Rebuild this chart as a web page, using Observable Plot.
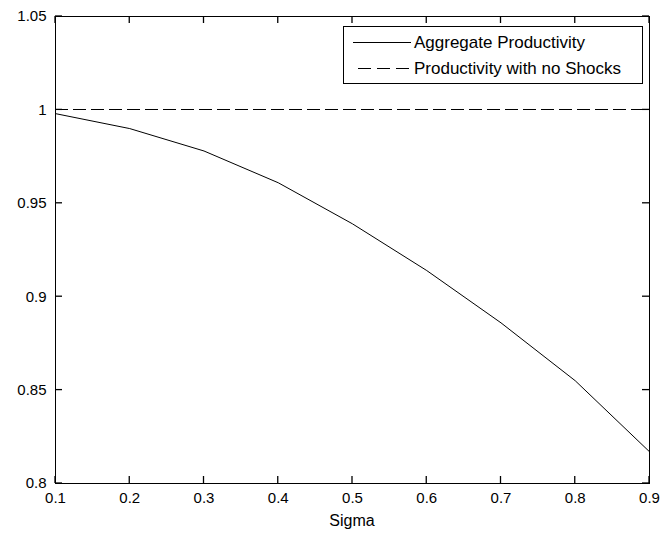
<!DOCTYPE html>
<html>
<head>
<meta charset="utf-8">
<script src="https://cdn.jsdelivr.net/npm/d3@7"></script>
<script src="https://cdn.jsdelivr.net/npm/@observablehq/plot@0.6"></script>
<style>
  html, body { margin: 0; padding: 0; background: #fff; }
  #chart { position: relative; width: 663px; height: 539px; }
</style>
</head>
<body>
<div id="chart"></div>
<script>
const sigma = [0.1, 0.2, 0.3, 0.4, 0.5, 0.6, 0.7, 0.8, 0.9];
const aggregateProductivity = [0.998, 0.990, 0.978, 0.961, 0.939, 0.914, 0.886, 0.855, 0.817];
const noShockProductivity = [1, 1, 1, 1, 1, 1, 1, 1, 1];
const xTicks = [0.1, 0.2, 0.3, 0.4, 0.5, 0.6, 0.7, 0.8, 0.9];
const xTickLabels = ["0.1", "0.2", "0.3", "0.4", "0.5", "0.6", "0.7", "0.8", "0.9"];
const yTicks = [0.8, 0.85, 0.9, 0.95, 1, 1.05];
const yTickLabels = ["0.8", "0.85", "0.9", "0.95", "1", "1.05"];
const seriesNames = ["Aggregate Productivity", "Productivity with no Shocks"];
const xLabel = "Sigma";

const rows = sigma.map((s, i) => ({s, agg: aggregateProductivity[i], base: noShockProductivity[i]}));

const textFont = "'Liberation Sans', Arial, sans-serif";
const W = 663, H = 539, ML = 55, MR = 14, MT = 16, MB = 56, TICK = 7;

const plot = Plot.plot({
  width: W,
  height: H,
  marginLeft: ML,
  marginRight: MR,
  marginTop: MT,
  marginBottom: MB,
  style: {background: "#fff", color: "#000", fontFamily: textFont, fontSize: "15px", overflow: "visible"},
  x: {domain: [0.1, 0.9]},
  y: {domain: [0.8, 1.05]},
  marks: [
    Plot.line(rows, {x: "s", y: "base", stroke: "#000", strokeWidth: 1, strokeDasharray: "12,6", shapeRendering: "crispEdges"}),
    Plot.line(rows, {x: "s", y: "agg", stroke: "#000", strokeWidth: 1}),
    Plot.axisX(xTicks, {anchor: "bottom", tickSize: 0, tickPadding: 9, label: null,
      tickFormat: d => xTickLabels[xTicks.indexOf(d)], fontSize: 15, fill: "#000"}),
    Plot.axisY(yTicks, {anchor: "left", tickSize: 0, tickPadding: 9, label: null,
      tickFormat: d => yTickLabels[yTicks.indexOf(d)], fontSize: 15, fill: "#000"}),
    Plot.frame({stroke: "#000", strokeWidth: 1, shapeRendering: "crispEdges"})
  ]
});

document.getElementById("chart").appendChild(plot);

const sx = plot.scale("x"), sy = plot.scale("y");
const svg = d3.select(plot);

// inward ticks on all four sides, positioned through Plot's scales
const tg = svg.append("g").attr("stroke", "#000").attr("stroke-width", 1.3);
const yBottom = sy.apply(0.8), yTop = sy.apply(1.05);
const xLeft = sx.apply(0.1), xRight = sx.apply(0.9);
xTicks.forEach(t => {
  const x = sx.apply(t);
  tg.append("line").attr("x1", x).attr("x2", x).attr("y1", yBottom).attr("y2", yBottom - TICK);
  tg.append("line").attr("x1", x).attr("x2", x).attr("y1", yTop).attr("y2", yTop + TICK);
});
yTicks.forEach(t => {
  const y = sy.apply(t);
  tg.append("line").attr("y1", y).attr("y2", y).attr("x1", xLeft).attr("x2", xLeft + TICK);
  tg.append("line").attr("y1", y).attr("y2", y).attr("x1", xRight).attr("x2", xRight - TICK);
});

// x-axis title
svg.append("text")
  .attr("x", (xLeft + xRight) / 2).attr("y", 526)
  .attr("text-anchor", "middle")
  .attr("font-family", textFont).attr("font-size", 16).attr("fill", "#000")
  .text(xLabel);

// legend
const lg = svg.append("g");
lg.append("rect").attr("x", 343.5).attr("y", 26.5).attr("width", 299).attr("height", 57)
  .attr("fill", "#fff").attr("stroke", "#000").attr("stroke-width", 1);
seriesNames.forEach((name, i) => {
  const y = 42.5 + i * 26;
  const ln = lg.append("line").attr("x1", 353).attr("x2", 411).attr("y1", y).attr("y2", y)
    .attr("stroke", "#000").attr("stroke-width", 1);
  if (i === 1) ln.attr("stroke-dasharray", "13,6").attr("x1", 358);
  lg.append("text").attr("x", 414).attr("y", y).attr("dy", "0.35em")
    .attr("text-anchor", "start")
    .attr("font-family", textFont).attr("font-size", 17).attr("fill", "#000")
    .text(name);
});
</script>
</body>
</html>
